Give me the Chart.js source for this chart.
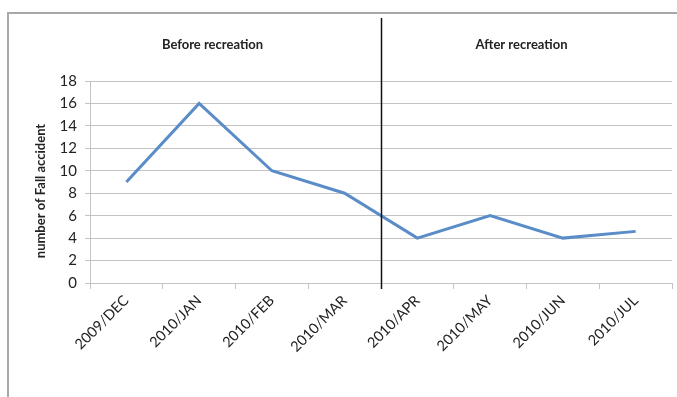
<!DOCTYPE html>
<html>
<head>
<meta charset="utf-8">
<script src="https://cdn.jsdelivr.net/npm/chart.js@4"></script>
<style>
  html, body { margin: 0; padding: 0; background: #fff; }
  #wrap { width: 677px; height: 397px; }
</style>
</head>
<body>
<div id="wrap"><canvas id="fallChart" width="677" height="397"></canvas></div>
<script>
// chart data
const months = ['2009/DEC', '2010/JAN', '2010/FEB', '2010/MAR', '2010/APR', '2010/MAY', '2010/JUN', '2010/JUL'];
const fallAccidents = [9, 16, 10, 8, 4, 6, 4, 4.6];
const yTicks = [0, 2, 4, 6, 8, 10, 12, 14, 16, 18];
const periodLabels = ['Before recreation', 'After recreation'];
const lastMonthBefore = '2010/MAR';
const yTitle = 'number of Fall accident';

const textColor = '#222';
const gridColor = '#c4c4c4';

// frame, divider line and the period captions
const decorPlugin = {
    id: 'decor',
    afterDraw(chart) {
        const ctx = chart.ctx;
        const x = chart.scales.x;
        const area = chart.chartArea;
        ctx.save();

        // outer frame (top and left edge visible)
        ctx.strokeStyle = '#a8a8a8';
        ctx.lineWidth = 2;
        ctx.beginPath();
        ctx.moveTo(8, 397);
        ctx.lineTo(8, 13);
        ctx.lineTo(677, 13);
        ctx.stroke();

        // divider between before / after
        const idx = months.indexOf(lastMonthBefore);
        const divX = Math.round((x.getPixelForValue(idx) + x.getPixelForValue(idx + 1)) / 2) + 0.5;
        ctx.strokeStyle = '#111';
        ctx.lineWidth = 1.5;
        ctx.beginPath();
        ctx.moveTo(divX, 18);
        ctx.lineTo(divX, area.bottom + 6);
        ctx.stroke();

        // captions
        ctx.fillStyle = textColor;
        ctx.font = 'bold 13px Lato';
        ctx.textAlign = 'center';
        ctx.textBaseline = 'middle';
        ctx.fillText(periodLabels[0], divX - 169, 45);
        ctx.fillText(periodLabels[1], divX + 140, 45);

        // y axis title
        ctx.translate(41, 191);
        ctx.rotate(-Math.PI / 2);
        ctx.fillText(yTitle, 0, 0);
        ctx.restore();
    }
};

const ctx = document.getElementById('fallChart').getContext('2d');
new Chart(ctx, {
    type: 'line',
    data: {
        labels: months,
        datasets: [{
            label: 'Fall accidents',
            data: fallAccidents,
            borderColor: '#5a8cc8',
            borderWidth: 3,
            pointRadius: 0,
            tension: 0,
            fill: false
        }]
    },
    options: {
        responsive: false,
        animation: false,
        layout: { padding: { top: 81, right: 5, left: 0, bottom: 0 } },
        plugins: {
            legend: { display: false },
            tooltip: { enabled: false }
        },
        scales: {
            x: {
                offset: true,
                afterFit: s => { s.height = 114; },
                grid: {
                    offset: true,
                    drawOnChartArea: false,
                    drawTicks: true,
                    tickLength: 6,
                    color: gridColor
                },
                border: { color: gridColor, width: 1 },
                ticks: {
                    color: textColor,
                    font: { family: 'Lato', size: 14.5 },
                    maxRotation: 45,
                    minRotation: 45,
                    padding: 3
                }
            },
            y: {
                min: 0,
                max: 18,
                afterFit: s => { s.width = 90; },
                afterBuildTicks: s => { s.ticks = yTicks.map(v => ({ value: v })); },
                grid: {
                    color: gridColor,
                    tickLength: 5
                },
                border: { color: gridColor, width: 1 },
                ticks: {
                    color: textColor,
                    font: { family: 'Lato', size: 15 },
                    padding: 8
                }
            }
        }
    },
    plugins: [decorPlugin]
});
</script>
</body>
</html>
